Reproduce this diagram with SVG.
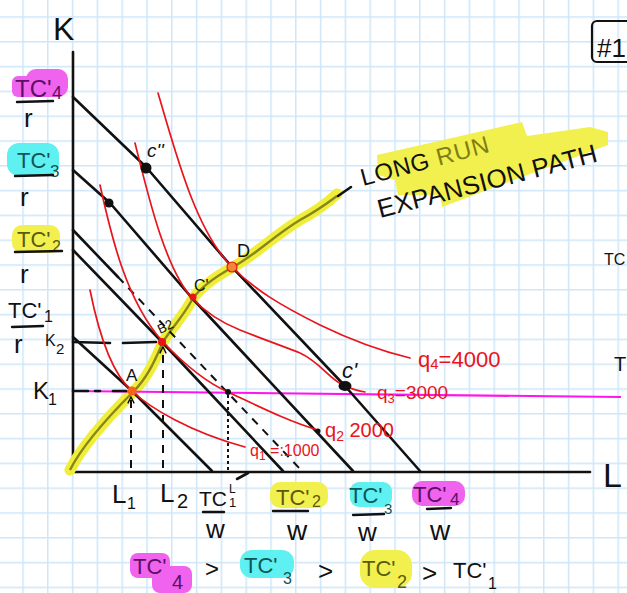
<svg xmlns="http://www.w3.org/2000/svg" width="627" height="593" viewBox="0 0 627 593">
<defs>
<pattern id="grid" x="22.25" y="16.25" width="24.8" height="24.8" patternUnits="userSpaceOnUse">
<path d="M0.75 0V24.8M0 0.75H24.8" stroke="#cfe6f8" stroke-width="1.5" fill="none"/>
</pattern>
<marker id="arr" viewBox="0 0 10 10" refX="9" refY="5" markerWidth="8" markerHeight="8" markerUnits="userSpaceOnUse" orient="auto">
<path d="M1,1 L9,5 L1,9" fill="none" stroke="#000" stroke-width="1.6"/>
</marker>
<style>
.t{font-family:"Liberation Sans","DejaVu Sans",sans-serif;fill:#111}
.blk{stroke:#111;stroke-width:2.6;fill:none;stroke-linecap:round;stroke-linejoin:round}
.dash{stroke:#111;stroke-width:2;fill:none;stroke-dasharray:8 7}
.dot{stroke:#111;stroke-width:2;fill:none;stroke-dasharray:3 3}
.red{stroke:#e8141a;stroke-width:1.7;fill:none;stroke-linecap:round}
.rl{font-family:"Liberation Sans","DejaVu Sans",sans-serif;fill:#e8141a}
.mag{fill:#f063ee}
.cyn{fill:#5ff0f2}
.yel{fill:#f2f04e}
.tm{fill:#5c0f63}
.tc{fill:#0c5657}
.ty{fill:#5a5a0c}
.ul{stroke:#111;stroke-width:2.4;stroke-linecap:round}
</style>
</defs>
<rect width="627" height="593" fill="#fff"/>
<rect width="627" height="593" fill="url(#grid)"/>

<!-- highlights -->
<g id="highlights">
<rect class="mag" x="26" y="69" width="42" height="28" rx="10"/>
<rect class="mag" x="12" y="76" width="26" height="21" rx="6"/>
<rect class="cyn" x="7" y="143" width="52" height="33" rx="12"/>
<rect class="yel" x="12" y="225" width="48" height="28" rx="10"/>
<rect class="yel" x="270" y="482" width="58" height="26" rx="10"/>
<rect class="cyn" x="350" y="482" width="42" height="25" rx="9"/>
<rect class="mag" x="412" y="481" width="53" height="25" rx="10"/>
<rect class="mag" x="130" y="553" width="40" height="25" rx="8"/>
<rect class="mag" x="152" y="566" width="40" height="27" rx="8"/>
<rect class="cyn" x="240" y="550" width="54" height="28" rx="12"/>
<rect class="yel" x="360" y="550" width="52" height="38" rx="15"/>
<polygon class="yel" points="377,155 522,122 527,136 590,127 608,132 608,145 442,207 440,195 398,195 395,180 378,175"/>
</g>

<!-- axes -->
<g id="axes">
<line class="blk" x1="73" y1="52" x2="73" y2="472" stroke-width="3"/>
<line class="blk" x1="72" y1="472" x2="590" y2="472" stroke-width="3"/>
<text class="t" x="53" y="40" font-size="32">K</text>
<text class="t" x="603" y="487" font-size="34">L</text>
</g>

<!-- expansion path -->
<g id="expansion-path">
<path d="M70,470 C80,450 100,425 133,392 C148,377 155,360 163,342 C170,330 182,318 192,300 C200,287 215,277 233,267 C255,255 275,235 300,220 C315,212 325,205 337,194" stroke="#f0ee3a" stroke-width="11" fill="none" stroke-linecap="round"/>
<path d="M70,470 C80,450 100,425 133,392 C148,377 155,360 163,342 C170,330 182,318 192,300 C200,287 215,277 233,267 C255,255 275,235 300,220 C315,212 325,205 337,196" stroke="#86861a" stroke-width="2.4" fill="none"/>
<line class="blk" x1="338" y1="196" x2="351" y2="187" stroke-width="2.2"/>
</g>

<!-- K1 line -->
<line id="k1-line" x1="72" y1="391" x2="621" y2="397" stroke="#ff14f0" stroke-width="2.2"/>

<!-- budget lines (connectors) -->
<g id="connectors">
<polyline class="blk" points="73,337 132,391 212,471"/>
<polyline class="blk" points="73,250 162,342 283,471"/>
<line class="blk" x1="73" y1="230" x2="118" y2="277"/>
<line class="dash" x1="118" y1="277" x2="302" y2="471"/>
<polyline class="blk" points="73,170 110,203 192,298 353,471"/>
<polyline class="blk" points="73,97 146,167 232,267 345,386 420,471"/>
<line class="dash" x1="131" y1="468" x2="131" y2="397" marker-end="url(#arr)"/>
<line class="dash" x1="163" y1="468" x2="163" y2="347" marker-end="url(#arr)"/>
<line class="dot" x1="228" y1="395" x2="228" y2="470"/>
<line class="blk" x1="73" y1="342" x2="110" y2="343" stroke-width="2"/>
<line class="blk" x1="123" y1="343" x2="156" y2="342" stroke-width="2"/>
<line class="blk" x1="73" y1="391" x2="88" y2="391" stroke-width="2"/>
<line class="blk" x1="95" y1="391" x2="100" y2="391" stroke-width="2"/>
<line class="blk" x1="113" y1="391" x2="126" y2="391" stroke-width="2"/>
<line class="blk" x1="237" y1="479" x2="248" y2="473" stroke-width="2"/>
</g>

<!-- isoquants -->
<g id="isoquants">
<path class="red" d="M90,290 C98,330 110,372 132,391 C150,408 190,432 245,447"/>
<path class="red" d="M100,185 C110,230 125,300 163,342 C185,365 205,382 228,392 C260,407 290,422 318,430"/>
<path class="red" d="M135,143 C148,195 165,268 192,298 C205,312 220,322 240,330 C265,340 285,347 300,353 C320,362 330,380 345,386 C352,389 358,391 365,392"/>
<path class="red" d="M158,93 C175,150 195,230 232,267 C255,290 280,305 320,325 C355,342 385,352 410,358"/>
<text class="rl" x="250" y="456" font-size="16">q<tspan font-size="12" dy="4">1</tspan><tspan dy="-4"> =:1000</tspan></text>
<text class="rl" x="325" y="437" font-size="20">q<tspan font-size="14" dy="4">2</tspan><tspan dy="-4"> 2000</tspan></text>
<text class="rl" x="377" y="399" font-size="19">q<tspan font-size="13" dy="4">3</tspan><tspan dy="-4">=3000</tspan></text>
<text class="rl" x="418" y="367" font-size="22">q<tspan font-size="15" dy="2">4</tspan><tspan dy="-2">=4000</tspan></text>
</g>

<!-- points -->
<g id="points">
<circle cx="146" cy="168" r="5.5" fill="#111"/>
<circle cx="109" cy="203" r="4.5" fill="#111"/>
<circle cx="228" cy="392" r="3" fill="#111"/>
<ellipse cx="345" cy="386" rx="6.5" ry="5" fill="#111"/>
<circle cx="318" cy="431" r="2.5" fill="#111"/>
<circle cx="132" cy="391" r="4.5" fill="#f26418"/>
<circle cx="162" cy="342" r="4" fill="#e8141a"/>
<circle cx="193" cy="297" r="3.5" fill="#e8141a"/>
<circle cx="232" cy="267" r="5" fill="#f08a30" stroke="#e8141a" stroke-width="1.2"/>
<text class="t" x="126" y="381" font-size="17">A</text>
<text class="t" x="160" y="334" font-size="13" transform="rotate(-25 160 334)">B2</text>
<text class="t" x="194" y="291" font-size="16">C'</text>
<text class="t" x="237" y="257" font-size="18">D</text>
<text class="t" x="147" y="157" font-size="19" font-style="italic">c''</text>
<text class="t" x="342" y="378" font-size="22" font-style="italic">c'</text>
</g>

<!-- expansion path label -->
<g id="label-expansion">
<text class="t" x="363" y="186" font-size="24" textLength="132" transform="rotate(-15 363 186)">LONG <tspan fill="#7e7e14">RUN</tspan></text>
<text class="t" x="380" y="218" font-size="26" textLength="226" transform="rotate(-14.5 380 218)">EXPANSION PATH</text>
</g>

<!-- y axis labels -->
<g id="y-labels">
<text class="t tm" x="15" y="97" font-size="24">TC'</text>
<text class="t tm" x="52" y="99" font-size="18">4</text>
<line class="ul" x1="17" y1="102" x2="53" y2="101"/>
<text class="t" x="24" y="127" font-size="26">r</text>
<text class="t tc" x="17" y="168" font-size="22">TC'</text>
<text class="t tc" x="50" y="177" font-size="17">3</text>
<line class="ul" x1="15" y1="176" x2="53" y2="175"/>
<text class="t" x="20" y="206" font-size="26">r</text>
<text class="t ty" x="17" y="247" font-size="22">TC'</text>
<text class="t ty" x="52" y="252" font-size="16">2</text>
<line class="ul" x1="15" y1="252" x2="62" y2="251"/>
<text class="t" x="20" y="283" font-size="26">r</text>
<text class="t" x="8" y="318" font-size="22">TC'</text>
<text class="t" x="44" y="322" font-size="16">1</text>
<line class="ul" x1="12" y1="327" x2="43" y2="326"/>
<text class="t" x="14" y="353" font-size="26">r</text>
<text class="t" x="45" y="346" font-size="16">K</text>
<text class="t" x="56" y="354" font-size="15">2</text>
<text class="t" x="33" y="399" font-size="24">K</text>
<text class="t" x="48" y="405" font-size="16">1</text>
</g>

<!-- x axis labels -->
<g id="x-labels">
<text class="t" x="112" y="503" font-size="26">L</text>
<text class="t" x="127" y="509" font-size="16">1</text>
<text class="t" x="160" y="502" font-size="26">L</text>
<text class="t" x="177" y="508" font-size="20">2</text>
<text class="t" x="199" y="506" font-size="21">TC</text>
<text class="t" x="229" y="493" font-size="12">L</text>
<text class="t" x="229" y="507" font-size="13">1</text>
<line class="ul" x1="203" y1="512" x2="224" y2="512"/>
<text class="t" x="206" y="538" font-size="26">w</text>
<text class="t ty" x="276" y="505" font-size="22">TC'</text>
<text class="t ty" x="312" y="507" font-size="16">2</text>
<line class="ul" x1="273" y1="511" x2="308" y2="511"/>
<text class="t" x="287" y="540" font-size="28">w</text>
<text class="t tc" x="349" y="503" font-size="22">TC'</text>
<text class="t tc" x="384" y="514" font-size="15">3</text>
<line class="ul" x1="353" y1="515" x2="384" y2="514"/>
<text class="t" x="358" y="541" font-size="26">w</text>
<text class="t tm" x="413" y="502" font-size="22">TC'</text>
<text class="t tm" x="450" y="505" font-size="17">4</text>
<line class="ul" x1="427" y1="509" x2="451" y2="508"/>
<text class="t" x="430" y="540" font-size="28">w</text>
</g>

<!-- inequality -->
<g id="inequality">
<text class="t tm" x="133" y="574" font-size="22">TC'</text>
<text class="t tm" x="172" y="589" font-size="20">4</text>
<text class="t" x="205" y="577" font-size="24">&gt;</text>
<text class="t tc" x="244" y="573" font-size="22">TC'</text>
<text class="t tc" x="283" y="584" font-size="16">3</text>
<text class="t" x="318" y="580" font-size="26">&gt;</text>
<text class="t ty" x="362" y="576" font-size="22">TC'</text>
<text class="t ty" x="397" y="588" font-size="18">2</text>
<text class="t" x="422" y="582" font-size="26">&gt;</text>
<text class="t" x="453" y="578" font-size="22">TC'</text>
<text class="t" x="488" y="589" font-size="16">1</text>
</g>

<!-- margin notes -->
<g id="margin">
<rect x="592" y="21" width="40" height="41" rx="5" fill="none" stroke="#111" stroke-width="2.2"/>
<text class="t" x="597" y="57" font-size="26">#1</text>
<text class="t" x="604" y="265" font-size="16">TC</text>
<text class="t" x="614" y="371" font-size="20">T</text>
</g>
</svg>
